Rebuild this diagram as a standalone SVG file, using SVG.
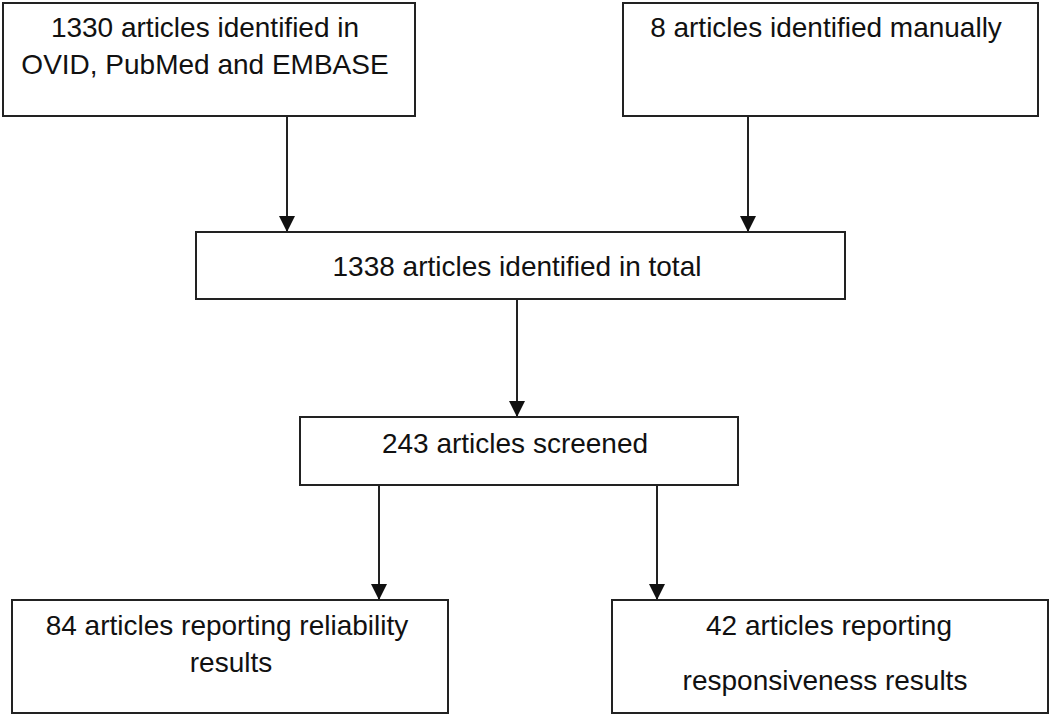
<svg xmlns="http://www.w3.org/2000/svg" width="1050" height="716" viewBox="0 0 1050 716">
<style>
.box{fill:#fff;stroke:#222;stroke-width:2}
.lbl{font-family:"Liberation Sans",Arial,sans-serif;font-size:28px;fill:#111;text-anchor:middle}
.conn{stroke:#222;stroke-width:2;fill:none;marker-end:url(#ah)}
</style>
<defs>
<marker id="ah" markerUnits="userSpaceOnUse" markerWidth="16" markerHeight="16" viewBox="0 0 16 16" refX="16" refY="8" orient="auto">
<path d="M0,0 L16,8 L0,16 Z" fill="#111"/>
</marker>
</defs>
<rect width="1050" height="716" fill="#fff"/>
<g id="connectors">
<line class="conn" x1="287" y1="116" x2="287" y2="232"/>
<line class="conn" x1="748" y1="116" x2="748" y2="232"/>
<line class="conn" x1="517" y1="299" x2="517" y2="417"/>
<line class="conn" x1="379" y1="485" x2="379" y2="600"/>
<line class="conn" x1="657" y1="485" x2="657" y2="600"/>
</g>
<g id="n1">
<rect class="box" x="3" y="3" width="412" height="113"/>
<text class="lbl" x="205" y="37">1330 articles identified in</text>
<text class="lbl" x="205" y="74">OVID, PubMed and EMBASE</text>
</g>
<g id="n2">
<rect class="box" x="623" y="3" width="415" height="113"/>
<text class="lbl" x="826" y="37">8 articles identified manually</text>
</g>
<g id="n3">
<rect class="box" x="196" y="232" width="649" height="67"/>
<text class="lbl" x="517" y="276">1338 articles identified in total</text>
</g>
<g id="n4">
<rect class="box" x="300" y="417" width="438" height="68"/>
<text class="lbl" x="515" y="453">243 articles screened</text>
</g>
<g id="n5">
<rect class="box" x="12" y="600" width="436" height="113"/>
<text class="lbl" x="227" y="635">84 articles reporting reliability</text>
<text class="lbl" x="231" y="672">results</text>
</g>
<g id="n6">
<rect class="box" x="612" y="600" width="436" height="113"/>
<text class="lbl" x="829" y="635">42 articles reporting</text>
<text class="lbl" x="825" y="690">responsiveness results</text>
</g>
</svg>
